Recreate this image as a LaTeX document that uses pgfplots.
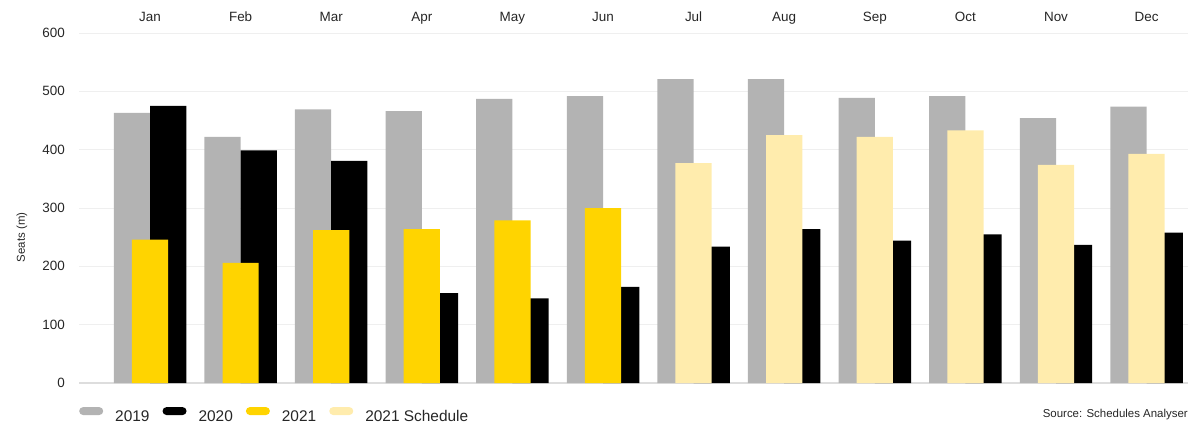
\documentclass[border=0pt]{standalone}
\usepackage{pgfplots}
\pgfplotsset{compat=1.18}
\usepackage{fontspec}
\setmainfont{Liberation Sans}
\definecolor{c19}{HTML}{B3B3B3}
\definecolor{c20}{HTML}{000000}
\definecolor{c21}{HTML}{FFD400}
\definecolor{c21s}{HTML}{FFECAD}
\definecolor{gridc}{HTML}{EFEFEF}
\definecolor{basec}{HTML}{DDDDDD}
\definecolor{txt}{HTML}{262626}
\begin{document}
\begin{tikzpicture}
\useasboundingbox (0,0) rectangle (1189bp,425bp);
\begin{axis}[
  at={(79bp,42bp)}, anchor=south west,
  scale only axis, width=1109bp, height=350bp,
  clip=false,
  xmin=-0.784, xmax=11.457, ymin=0, ymax=600,
  axis line style={draw=none},
  major tick length=0pt,
  ytick={0,100,...,600},
  xtick={0,...,11},
  xticklabels={Jan,Feb,Mar,Apr,May,Jun,Jul,Aug,Sep,Oct,Nov,Dec},
  xticklabel pos=upper,
  /pgf/number format/assume math mode=true,
  ticklabel style={font=\fontsize{13.5}{15}\selectfont, text=txt, inner sep=0pt},
  xticklabel style={anchor=base, yshift=11.5bp},
  yticklabel style={anchor=east, xshift=-14bp},
  ymajorgrids, grid style={gridc, line width=1bp},
  extra y ticks={0}, extra y tick labels={},
  extra y tick style={grid style={basec, line width=1.2bp}},
  ylabel={Seats (m)},
  ylabel style={at={(axis description cs:-0.0514,0.416)}, anchor=center, font=\fontsize{11.5}{13}\selectfont, text=txt},
  legend columns=-1,
  legend style={at={(rel axis cs:0,-0.0914)}, anchor=west, draw=none, fill=none, inner sep=0pt,
    font=\fontsize{15.5}{17}\selectfont, text=txt, nodes={inner sep=0pt},
    /tikz/every odd column/.append style={column sep=12bp},
    /tikz/every even column/.append style={column sep=13bp}},
  legend image code/.code={\fill[#1,draw=none,rounded corners=4bp] (0bp,1.5bp) rectangle (24bp,9.5bp);},
]
\addplot[ybar, bar width=0.4, bar shift=-0.2, fill=c19, draw=none] coordinates {
 (0,463) (1,422) (2,469) (3,466) (4,487) (5,492) (6,521) (7,521) (8,489) (9,492) (10,454) (11,474)};
\addlegendentry{2019}
\addplot[ybar, bar width=0.4, bar shift=0.2, fill=c20, draw=none] coordinates {
 (0,475) (1,399) (2,381) (3,154) (4,145) (5,165) (6,234) (7,264) (8,244) (9,255) (10,237) (11,258)};
\addlegendentry{2020}
\addplot[ybar, bar width=0.4, bar shift=0, fill=c21, draw=none] coordinates {
 (0,246) (1,206) (2,262) (3,264) (4,279) (5,300)};
\addlegendentry{2021}
\addplot[ybar, bar width=0.4, bar shift=0, fill=c21s, draw=none] coordinates {
 (6,377) (7,425) (8,422) (9,433) (10,374) (11,393)};
\addlegendentry{2021 Schedule}
\node[anchor=east, inner sep=0pt, font=\fontsize{11.5}{13}\selectfont, text=txt] at (rel axis cs:1,-0.0914) {Source: Schedules Analyser};
\end{axis}
\end{tikzpicture}
\end{document}
